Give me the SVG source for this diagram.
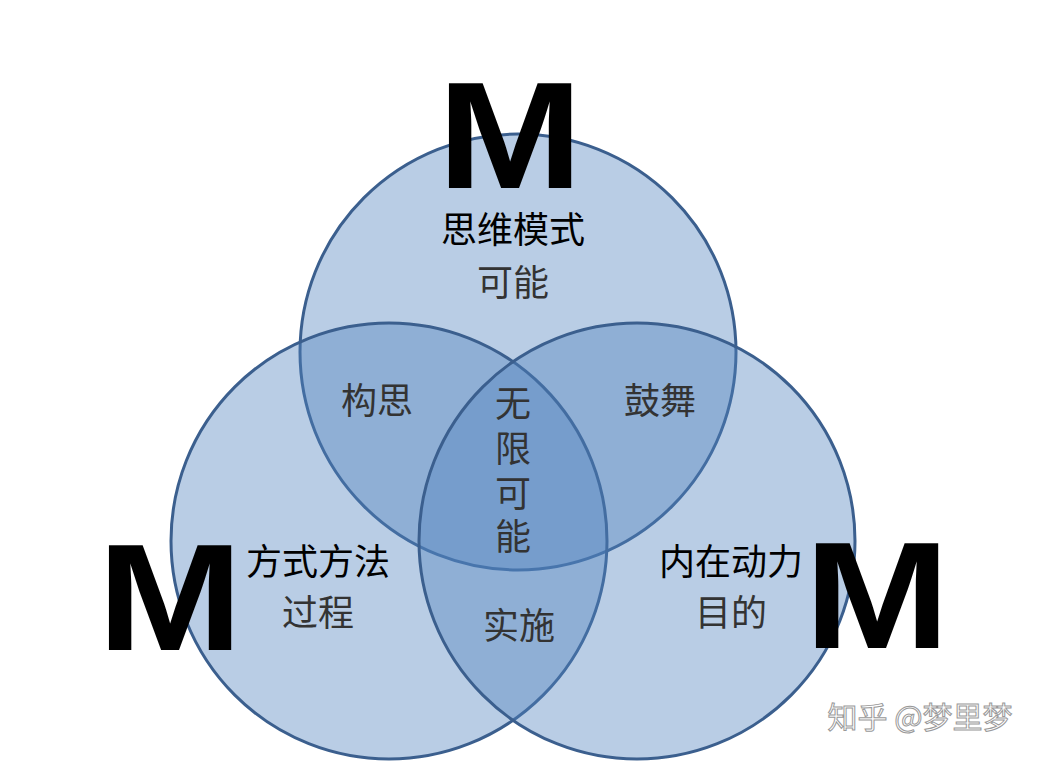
<svg xmlns="http://www.w3.org/2000/svg" width="1045" height="763" viewBox="0 0 1045 763">
<style>
.c{fill:#4f81bd;fill-opacity:0.4;stroke:#3b5f8e;stroke-width:3}
.t{font-family:"Liberation Sans","Noto Sans CJK SC",sans-serif;font-size:36px;text-anchor:middle}
.b{fill:#000}
.g{fill:#333}
.m{font-family:"Liberation Sans",sans-serif;font-weight:bold;font-size:152px;text-anchor:middle;fill:#000}
</style>
<rect width="1045" height="763" fill="#fff"/>
<g id="circles">
<circle id="top" class="c" cx="518" cy="352" r="218"/>
<circle id="left" class="c" cx="389" cy="541" r="218"/>
<circle id="right" class="c" cx="637" cy="541" r="218"/>
</g>
<g id="labels">
<text class="m" transform="translate(510,188) scale(1.15,1)">M</text>
<text class="m" transform="translate(170,650) scale(1.15,1)">M</text>
<text class="m" transform="translate(877,648) scale(1.15,1)">M</text>
<text class="t b" x="513" y="243">思维模式</text>
<text class="t g" x="513" y="296">可能</text>
<text class="t g" x="377" y="414">构思</text>
<text class="t g" x="660" y="414">鼓舞</text>
<text class="t g" x="513" y="417">无</text>
<text class="t g" x="513" y="462">限</text>
<text class="t g" x="513" y="507">可</text>
<text class="t g" x="513" y="550">能</text>
<text class="t b" x="318" y="575">方式方法</text>
<text class="t g" x="318" y="626">过程</text>
<text class="t b" x="731" y="575">内在动力</text>
<text class="t g" x="731" y="626">目的</text>
<text class="t g" x="519" y="639">实施</text>
<text x="920" y="728" style="font-family:'Noto Sans CJK SC',sans-serif;font-size:30px;text-anchor:middle;fill:#fff;stroke:#999;stroke-width:1">知乎 @梦里梦</text>
</g>
</svg>
